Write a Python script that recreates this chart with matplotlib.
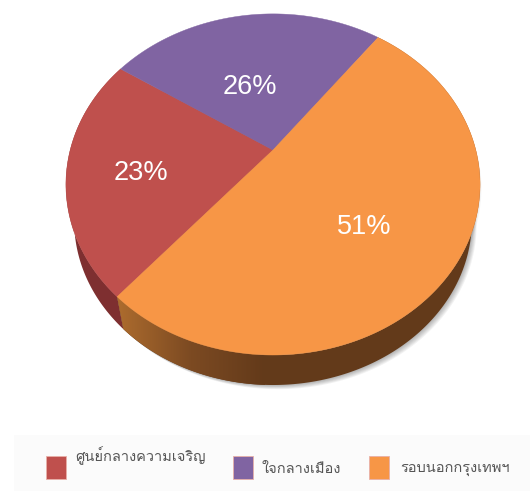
import numpy as np
import matplotlib
matplotlib.use("Agg")
import matplotlib.pyplot as plt
from matplotlib.patches import Polygon, Rectangle
from matplotlib.colors import LinearSegmentedColormap
from matplotlib import font_manager

labels = ["ศูนย์กลางความเจริญ", "ใจกลางเมือง", "รอบนอกกรุงเทพฯ"]
values = [23, 26, 51]
colors = ["#BF504D", "#8064A2", "#F79646"]
wall_colors = ["#7E2F30", "#633A1A"]

# thai font if there is one
thai = [f.name for f in font_manager.fontManager.ttflist
        if "Thai" in f.name or "Loma" in f.name or "Garuda" in f.name]

# perspective pie, pixel coordinates
cx, cy = 273, 150
a, b, k = 202.8, 163.6, 0.202
start = 53
# bottom rim is the top rim scaled and moved down
scale, drop = 0.96, 38.2


def to_xy(t):
    t = np.radians(t)
    w = 1 + k * np.sin(t)
    return cx + a * np.cos(t) / w, cy - b * np.sin(t) / w


def to_bottom(t):
    x, y = to_xy(t)
    return cx + scale * (x - cx), cy + drop + scale * (y - cy)


def wall_poly(t0, t1):
    tt = np.linspace(t0, t1, 300)
    x, y = to_xy(tt)
    xb, yb = to_bottom(tt)
    return np.r_[np.c_[x, y], np.c_[xb, yb][::-1]]


fig = plt.figure(figsize=(5.3, 4.91), dpi=100)
ax = fig.add_axes([0, 0, 1, 1])
ax.set_xlim(0, 530)
ax.set_ylim(491, 0)
ax.axis("off")

# slices run clockwise from the start angle: purple, red, orange
a1 = start
a2 = a1 + values[1] * 3.6
a3 = a2 + values[0] * 3.6
a4 = a3 + values[2] * 3.6

# shadow
tt = np.linspace(0, 360, 400)
xb, yb = to_bottom(tt)
for off in np.linspace(6, 1, 6):
    ax.add_patch(Polygon(np.c_[xb + off * 0.8, yb + off * 0.7], fc="#000000", alpha=0.05, ec="none", zorder=1))
x, y = to_xy(tt)
for off in np.linspace(4, 1, 4):
    ax.add_patch(Polygon(np.c_[x + off * 0.6 - 1, y + off], fc="#000000", alpha=0.03, ec="none", zorder=1))

# side wall
ax.add_patch(Polygon(wall_poly(a2, a3), fc=wall_colors[0], ec="none", zorder=2))
wall = Polygon(wall_poly(a3, a4), fc=wall_colors[1], ec="none", zorder=2)
ax.add_patch(wall)
grad = np.linspace(0, 1, 256).reshape(1, -1)
cm = LinearSegmentedColormap.from_list("w", ["#AD6C2E", "#7C4A22", wall_colors[1]])
im = ax.imshow(grad, extent=[to_xy(a3)[0], 265, 491, 0], cmap=cm, aspect="auto", zorder=3)
im.set_clip_path(wall)
ax.set_xlim(0, 530)
ax.set_ylim(491, 0)

# top slices
bounds = [(a2, a3, 0), (a1, a2, 1), (a3, a4, 2)]
for t0, t1, i in bounds:
    tt = np.linspace(t0, t1, 200)
    x, y = to_xy(tt)
    ax.add_patch(Polygon(np.r_[[[cx, cy]], np.c_[x, y]], fc=colors[i], ec=colors[i], lw=0.3, zorder=4))

# percent labels
lab_pos = [(141, 173.5), (250, 86.5), (364, 227.5)]
for v, (lx, ly) in zip(values, lab_pos):
    ax.text(lx, ly, f"{v}%", color="white", fontsize=19.5, family="Liberation Sans",
            ha="center", va="center", zorder=5)

# legend
ax.add_patch(Rectangle((14, 435), 516, 56, fc="#FBFBFB", ec="none", zorder=1))
fam = thai + ["Noto Sans", "DejaVu Sans"]
for lab, c, sx, tx, ty in zip(labels, colors, [46, 233, 369], [75, 261, 400], [456, 469, 469]):
    ax.add_patch(Rectangle((sx, 456), 20, 23, fc=c, ec="#E8B0A8", lw=0.6, zorder=2))
    ax.text(tx, ty, lab, color="#555555", fontsize=10.5, family=fam, ha="left", va="center", zorder=3)

fig.savefig("out.png", dpi=100)
